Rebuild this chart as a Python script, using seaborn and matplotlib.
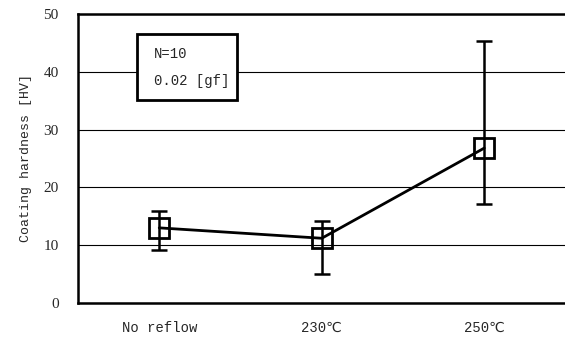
import seaborn as sns
import matplotlib.pyplot as plt
import pandas as pd
from matplotlib.patches import Rectangle

# data
conditions = ["No reflow", "230℃", "250℃"]
hardness_mean = [13.0, 11.2, 26.8]
hardness_low = [9.1, 5.1, 17.1]
hardness_high = [15.9, 14.2, 45.3]
y_ticks = [0, 10, 20, 30, 40, 50]

df = pd.DataFrame({"condition": conditions, "hardness": hardness_mean})

sns.set_style("white")
plt.rcParams["font.family"] = ["Liberation Mono", "DejaVu Sans"]

fig = plt.figure(figsize=(5.65, 3.38), dpi=100)
ax = fig.add_axes([78 / 565, 35 / 338, 487.5 / 565, 289 / 338])

pos = list(range(len(conditions)))
sns.lineplot(data=df, x="condition", y="hardness", sort=False, ax=ax,
             color="black", lw=2, marker="s", markersize=14.5,
             markerfacecolor="none", markeredgecolor="black",
             markeredgewidth=2, zorder=3)
err_lo = [m - l for m, l in zip(hardness_mean, hardness_low)]
err_hi = [h - m for m, h in zip(hardness_mean, hardness_high)]
ax.errorbar(pos, hardness_mean, yerr=[err_lo, err_hi], fmt="none",
            ecolor="black", elinewidth=1.8, capsize=5.5, capthick=1.8,
            zorder=4)

ax.set_xlim(-0.5, 2.5)
ax.set_ylim(0, 50)
ax.set_yticks(y_ticks)
ax.set_xticks(pos)
ax.set_xticklabels(conditions)
ax.set_xticks([0.5, 1.5], minor=True)
ax.tick_params(axis="x", which="major", length=0, pad=13, labelsize=10)
ax.tick_params(axis="x", which="minor", direction="in", length=3,
               width=0.8, color="black")
ax.tick_params(axis="y", length=0, pad=14, labelsize=11)
for lbl in ax.get_yticklabels():
    lbl.set_fontfamily(["Liberation Serif", "DejaVu Serif"])
ax.set_xlabel("")
ax.set_ylabel("Coating hardness [HV]", fontsize=9.5, labelpad=8)

ax.yaxis.grid(True, color="black", lw=0.8)
ax.set_axisbelow(True)
for s in ax.spines.values():
    s.set_color("black")
    s.set_linewidth(1.8)

# box with measuring conditions
ax.add_patch(Rectangle((0.121, 0.702), 0.205, 0.229, transform=ax.transAxes,
                       facecolor="white", edgecolor="black", lw=2,
                       zorder=5))
ax.text(0.156, 0.862, "N=10", transform=ax.transAxes, va="center",
        fontsize=10, zorder=6)
ax.text(0.156, 0.768, "0.02 [gf]", transform=ax.transAxes, va="center",
        fontsize=10, zorder=6)

fig.savefig("out.png", dpi=100)
